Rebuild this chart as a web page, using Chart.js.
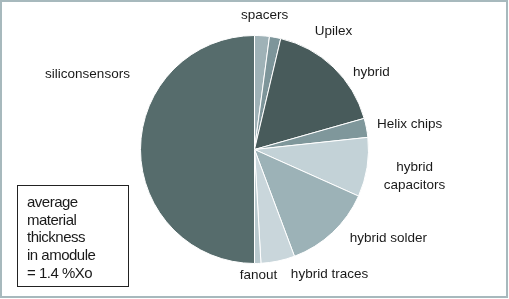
<!DOCTYPE html>
<html>
<head>
<meta charset="utf-8">
<script src="https://cdn.jsdelivr.net/npm/chart.js@4/dist/chart.umd.min.js"></script>
<style>
  body { margin: 0; background: #fff; }
  #wrap { position: relative; width: 509px; height: 299px; }
  #frame { position: absolute; left: 0; top: 0; width: 508px; height: 298px; box-sizing: border-box;
           border: 2px solid #a7b9bd; pointer-events: none; }
  #note { position: absolute; left: 17px; top: 185px; width: 112px; height: 102px; box-sizing: border-box;
          border: 1.5px solid #222; padding: 7px 0 0 9px;
          font: 15px "Liberation Sans", Arial, sans-serif; line-height: 17.7px; color: #1a1a1a; letter-spacing: -0.5px; }
</style>
</head>
<body>
<div id="wrap">
  <canvas id="mycanvas" width="509" height="299"></canvas>
  <div id="note">average<br>material<br>thickness<br>in amodule<br>= 1.4 %Xo</div>
  <div id="frame"></div>
</div>
<script>
var labels = ['spacers', 'Upilex', 'hybrid', 'Helix chips', 'hybrid capacitors', 'hybrid solder', 'hybrid traces', 'fanout', 'siliconsensors'];
var shares = [2.1, 1.6, 16.9, 2.7, 8.4, 12.6, 4.8, 0.9, 50.0]; // % of material budget
var colors = ['#9fb2b7', '#7d959a', '#485b5b', '#7f979b', '#c3d2d7', '#9cb2b7', '#c9d6db', '#b9c9ce', '#566c6c'];

// label anchor, relative to pie centre in units of radius
var labelPos = [[0.088, -1.18], [0.693, -1.04], [1.026, -0.68], [1.36, -0.224], [1.404, 0.232],
                [1.175, 0.776], [0.658, 1.092], [0.035, 1.10], [-1.465, -0.662]];

var pieLabels = {
  id: 'pieLabels',
  afterDatasetsDraw: function(chart) {
    var ctx = chart.ctx;
    var arcs = chart.getDatasetMeta(0).data;
    ctx.save();
    ctx.font = '13.5px "Liberation Sans", Arial, sans-serif';
    ctx.fillStyle = '#1a1a1a';
    ctx.textAlign = 'center';
    ctx.textBaseline = 'middle';
    for (var i = 0; i < arcs.length; i++) {
      var a = arcs[i];
      var x = a.x + labelPos[i][0] * a.outerRadius;
      var y = a.y + labelPos[i][1] * a.outerRadius;
      var lines = labels[i] == 'hybrid capacitors' ? ['hybrid', 'capacitors'] : [labels[i]];
      for (var j = 0; j < lines.length; j++) {
        ctx.fillText(lines[j], x, y + (j - (lines.length - 1) / 2) * 18);
      }
    }
    ctx.restore();
  }
};

var ctx = document.getElementById('mycanvas');
var pie = new Chart(ctx, {
  type: 'pie',
  data: {
    labels: labels,
    datasets: [{
      data: shares,
      backgroundColor: colors,
      borderColor: '#ffffff',
      borderWidth: 1
    }]
  },
  options: {
    responsive: false,
    animation: false,
    layout: { padding: { top: 35, bottom: 35 } },
    plugins: { legend: { display: false }, tooltip: { enabled: false } }
  },
  plugins: [pieLabels]
});
</script>
</body>
</html>
